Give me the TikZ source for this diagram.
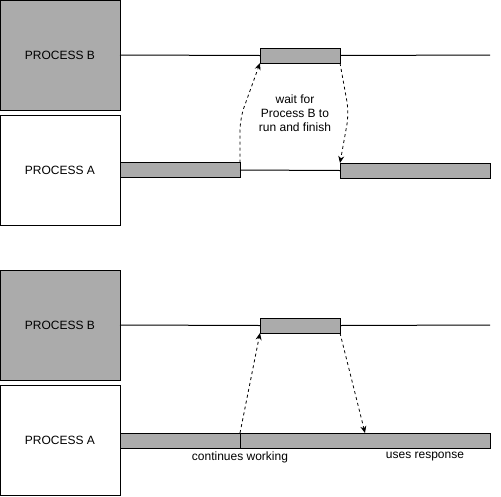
\documentclass[tikz,border=0pt]{standalone}
\usepackage{fontspec}
\setmainfont{Liberation Sans}
\usetikzlibrary{arrows.meta}
\definecolor{procgray}{HTML}{ABABAB}
\begin{document}
\begin{tikzpicture}[x=1pt,y=-1pt,
  font=\fontsize{12}{14}\selectfont,
  procbox/.style={draw=black, line width=1pt, minimum width=120pt, minimum height=110pt, inner sep=0pt, outer sep=0pt},
  bar/.style={draw=black, line width=1pt, fill=procgray, minimum height=15pt, inner sep=0pt, outer sep=0pt},
  msg/.style={dashed, dash pattern=on 3pt off 3pt, line width=0.8pt, -{Stealth[length=7pt,width=6pt]}},
  lifeline/.style={line width=1pt}]
\useasboundingbox (0,0) rectangle (501,496);
% ---- top diagram ----
\node[procbox, fill=procgray] (pB1) at (60,55) {PROCESS B};
\node[procbox, fill=white] (pA1) at (60,170) {PROCESS A};
\node[bar, minimum width=80pt] (bB1) at (300,55.5) {};
\node[bar, minimum width=120pt] (bA1a) at (180,170) {};
\node[bar, minimum width=150pt] (bA1b) at (415,170.5) {};
\coordinate (eB1) at (490,55);
\draw[lifeline] (pB1.east) -- (bB1.west);
\draw[lifeline] (bB1.east) -- (eB1);
\draw[lifeline] (bA1a.east) -- (bA1b.west);
\draw[msg, rounded corners=12pt] (bA1a.north east) -- ++(0,-44) -- (bB1.south west);
\draw[msg, rounded corners=12pt] (bB1.south east) -- ++(9,50) -- (bA1b.north west);
\node[align=center] (wait) at (295,113) {wait for\\Process B to\\run and finish};
% ---- bottom diagram ----
\node[procbox, fill=procgray] (pB2) at (60,325) {PROCESS B};
\node[procbox, fill=white] (pA2) at (60,440) {PROCESS A};
\node[bar, minimum width=80pt] (bB2) at (300,325.5) {};
\node[bar, minimum width=120pt] (bA2a) at (180,440.5) {};
\node[bar, minimum width=250pt] (bA2b) at (365,440.5) {};
\coordinate (eB2) at (490,325);
\draw[lifeline] (pB2.east) -- (bB2.west);
\draw[lifeline] (bB2.east) -- (eB2);
\draw[msg] (bA2a.north east) -- (bB2.south west);
\draw[msg] (bB2.south east) -- (bA2b.north);
\node (cw) at (240,457) {continues working};
\node (ur) at (425,457) {uses response};
\end{tikzpicture}
\end{document}
